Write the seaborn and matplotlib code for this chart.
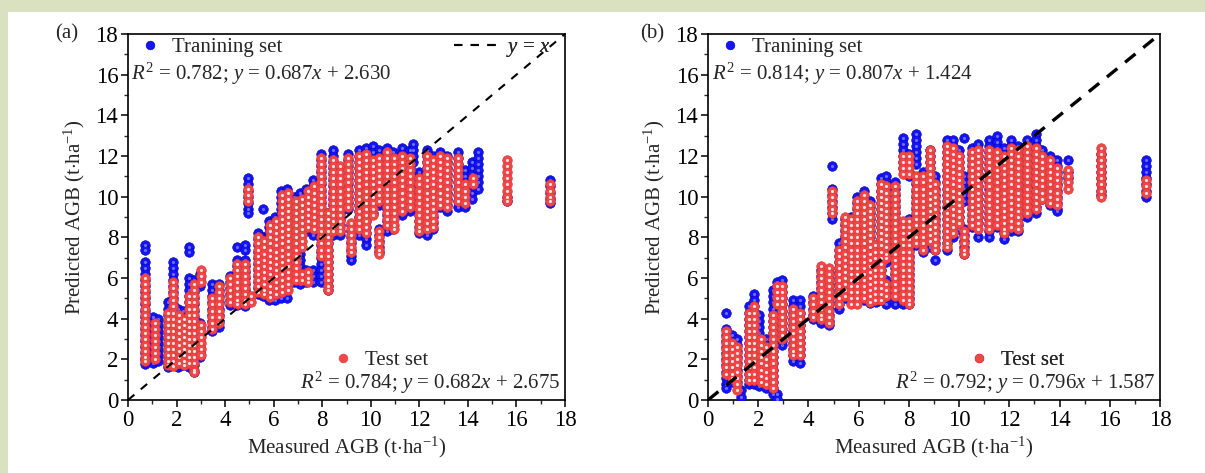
import numpy as np
import pandas as pd
import matplotlib
matplotlib.use("Agg")
import matplotlib.pyplot as plt
from matplotlib.lines import Line2D
from matplotlib.patches import Rectangle
from matplotlib.ticker import MultipleLocator
import seaborn as sns

# ---------------- data ----------------
# Panel (a) training set: measured AGB columns and predicted values in each column
a_train_x = [0.70, 1.05, 1.25, 1.65, 1.85, 2.05, 2.25, 2.5, 2.72, 2.98, 3.45, 3.75, 4.2, 4.5, 4.8, 4.95,
             5.35, 5.55, 5.8, 6.05, 6.3, 6.55, 6.85, 7.1, 7.35, 7.6, 7.95, 8.25, 8.45, 8.75, 9.05, 9.2,
             9.5, 9.8, 10.1, 10.35, 10.65, 10.9, 11.3, 11.6, 11.75, 12.0, 12.3, 12.55, 12.85, 13.15,
             13.6, 13.9, 14.15, 14.4, 15.6, 17.4]
a_train_y = [
    [7.6, 7.4, 6.8, 6.5, 6.2, 5.9, 5.6, 5.3, 5.0, 4.7, 4.4, 4.1, 3.8, 3.5, 3.2, 2.9, 2.6, 2.3, 2.0, 1.75],
    [4.1, 3.8, 3.5, 3.2, 2.9, 2.6, 2.3, 2.0, 1.8],
    [4.0, 3.7, 3.4, 3.1, 2.8, 2.5, 2.2, 1.9],
    [4.8, 4.5, 4.2, 3.9, 3.6, 3.3, 3.0, 2.7, 2.4, 2.1, 1.8, 1.6],
    [6.8, 6.5, 6.2, 5.9, 5.6, 5.3, 5.0, 4.7, 4.4, 4.1, 3.8, 3.5, 3.2, 2.9, 2.6, 2.3, 2.0, 1.7],
    [4.5, 4.2, 3.9, 3.6, 3.3, 3.0, 2.7, 2.4, 2.1, 1.8, 1.6],
    [4.4, 4.1, 3.8, 3.5, 3.2, 2.9, 2.6, 2.3, 2.0, 1.7],
    [7.5, 7.3, 6.0, 5.7, 5.4, 5.1, 4.8, 4.5, 4.2, 3.9, 3.6, 3.3, 3.0, 2.7, 2.4, 2.1, 1.8, 1.6],
    [5.9, 5.6, 5.3, 5.0, 4.7, 4.4, 4.1, 3.8, 3.5, 3.2, 2.9, 2.6, 2.3, 2.0, 1.7, 1.4],
    [6.2, 5.9, 5.6, 3.8, 3.5, 3.2, 2.9, 2.6, 2.3, 2.1],
    [5.7, 5.4, 5.1, 4.8, 4.5, 4.2, 3.9, 3.6, 3.4],
    [5.7, 5.4, 5.1, 4.8, 4.5, 4.2, 3.9, 3.6],
    [6.1, 5.8, 5.5, 5.2, 4.9, 4.65],
    [7.5, 6.9, 6.6, 6.3, 6.0, 5.7, 5.4, 5.1, 4.8, 4.65],
    [7.6, 7.4, 6.9, 6.6, 6.3, 6.0, 5.7, 5.4, 5.1, 4.8, 4.6],
    [10.9, 10.6, 10.3, 10.0, 9.7, 9.4, 9.2],
    [8.2, 7.9, 7.6, 7.3, 7.0, 6.7, 6.4, 6.1, 5.8, 5.5, 5.2],
    [9.4, 8.0, 7.7, 7.4, 7.1, 6.8, 6.5, 6.2, 5.9, 5.6, 5.3, 5.1],
    [8.8, 8.5, 8.2, 7.9, 7.6, 7.3, 7.0, 6.7, 6.4, 6.1, 5.8, 5.5, 5.2, 4.9],
    [9.0, 8.7, 8.4, 8.1, 7.8, 7.5, 7.2, 6.9, 6.6, 6.3, 6.0, 5.7, 5.4, 5.1, 4.9],
    [10.3, 10.0, 9.7, 9.4, 9.1, 8.8, 8.5, 8.2, 7.9, 7.6, 7.3, 7.0, 6.7, 6.4, 6.1, 5.8, 5.5, 5.2, 5.0],
    [10.4, 10.1, 9.8, 9.5, 9.2, 8.9, 8.6, 8.3, 8.0, 7.7, 7.4, 7.1, 6.8, 6.5, 6.2, 5.9, 5.6, 5.0],
    [10.0, 9.7, 9.4, 9.1, 8.8, 8.5, 8.2, 7.9, 7.6, 7.3, 7.0, 6.7, 6.4, 6.1, 5.8],
    [10.2, 9.9, 9.6, 9.3, 9.0, 8.7, 8.4, 8.1, 7.8, 7.5, 7.2, 6.9, 6.6, 6.3, 6.0, 5.7],
    [10.4, 10.1, 9.8, 9.5, 9.2, 8.9, 8.6, 8.3, 6.4, 6.1, 5.8],
    [10.8, 10.5, 10.2, 9.9, 9.6, 9.3, 9.0, 8.7, 8.4, 8.1, 6.4, 6.1, 5.8],
    [12.1, 11.8, 11.5, 11.2, 10.9, 10.6, 10.3, 10.0, 9.7, 9.4, 9.1, 8.8, 8.5, 8.2, 7.9, 7.6, 7.3, 7.0, 6.7, 6.4, 6.1, 5.8],
    [9.2, 8.9, 8.6, 8.3, 8.0, 7.7, 7.4, 7.1, 6.8, 6.5, 6.2, 5.9, 5.6, 5.4],
    [12.3, 12.0, 11.7, 11.4, 11.1, 10.8, 10.5, 10.2, 9.9, 9.6, 9.3, 9.0, 8.7, 8.4, 8.1],
    [11.3, 11.0, 10.7, 10.4, 10.1, 9.8, 9.5, 9.2, 8.9, 8.6, 8.3, 8.1],
    [12.1, 11.8, 11.5, 11.2, 10.9, 10.6, 10.3, 10.0, 9.7, 9.4],
    [8.6, 8.3, 8.0, 7.7, 7.4, 7.1, 6.9],
    [12.3, 12.0, 11.7, 11.4, 11.1, 10.8, 10.5, 10.2, 9.9, 9.6, 9.3, 9.0, 8.7, 8.4, 8.1],
    [12.4, 12.1, 11.8, 11.5, 11.2, 10.9, 10.6, 10.3, 10.0, 9.7, 9.4, 9.1, 8.8, 8.5, 8.2, 7.9, 7.6],
    [12.5, 12.2, 11.9, 11.6, 11.3, 11.0, 10.7, 10.4, 10.1, 9.8, 9.5, 9.2],
    [12.3, 12.0, 11.7, 11.4, 11.1, 10.8, 10.5, 10.2, 9.9, 9.6, 8.4, 8.1, 7.8, 7.5, 7.3],
    [12.4, 12.1, 11.8, 11.5, 11.2, 10.9, 10.6, 10.3, 10.0, 9.7, 9.4, 9.1, 8.8, 8.5, 8.3],
    [12.2, 11.9, 11.6, 11.3, 11.0, 10.7, 10.4, 10.1, 9.8, 9.5, 9.2, 8.9, 8.6, 8.4],
    [12.4, 12.1, 11.8, 11.5, 11.2, 10.9, 10.6, 10.3, 10.0, 9.7, 9.4, 9.1],
    [12.3, 12.0, 11.7, 11.4, 11.1, 10.8, 10.5, 10.2, 9.9, 9.6, 9.3],
    [12.6, 12.3, 12.0, 11.7],
    [11.2, 10.9, 10.6, 10.3, 10.0, 9.7, 9.4, 9.1, 8.8, 8.5, 8.2],
    [12.3, 12.0, 11.7, 11.4, 11.1, 10.8, 10.5, 10.2, 9.9, 9.6, 9.3, 9.0, 8.7, 8.4, 8.1],
    [12.0, 11.7, 11.4, 11.1, 10.8, 10.5, 10.2, 9.9, 9.6, 9.3, 9.0, 8.7, 8.4],
    [12.2, 11.9, 11.6, 11.3, 11.0, 10.7, 10.4, 10.1, 9.8, 9.5],
    [12.0, 11.7, 11.4, 11.1, 10.8, 10.5, 10.2, 9.9, 9.6, 9.3],
    [12.2, 11.9, 11.6, 11.3, 11.0, 10.7, 10.4, 10.1, 9.8, 9.5],
    [11.3, 11.0, 10.7, 10.4, 10.1, 9.8, 9.5],
    [11.7, 11.4, 11.1, 10.8, 10.5, 10.2, 9.9],
    [12.2, 11.9, 11.6, 11.3, 11.0, 10.7, 10.4],
    [10.0, 9.8],
    [10.8, 10.5, 10.2, 9.9, 9.7],
]

# Panel (a) test set
a_test_x = [0.70, 1.1, 1.65, 1.85, 2.1, 2.3, 2.5, 2.72, 3.0, 3.45, 3.75, 4.2, 4.5, 4.8, 4.95, 5.05,
            5.35, 5.6, 5.85, 6.1, 6.35, 6.6, 6.9, 7.15, 7.4, 7.65, 7.95, 8.25, 8.45, 8.75, 9.05, 9.2,
            9.5, 9.8, 10.1, 10.35, 10.65, 10.95, 11.3, 11.6, 12.0, 12.3, 12.55, 12.85, 13.15, 13.6,
            13.9, 14.2, 15.6, 17.4]
a_test_y = [
    [6.0, 5.7, 5.4, 5.1, 4.8, 4.5, 4.2, 3.9, 3.6, 3.3, 3.0, 2.7, 2.4, 2.1, 1.9],
    [3.8, 3.5, 3.2, 2.9, 2.6, 2.3, 2.0],
    [4.3, 4.0, 3.7, 3.4, 3.1, 2.8, 2.5, 2.2, 1.9, 1.7],
    [5.8, 5.5, 5.2, 4.9, 4.6, 4.3, 4.0, 3.7, 3.4, 3.1, 2.8, 2.5, 2.2, 1.9, 1.65],
    [4.2, 3.9, 3.6, 3.3, 3.0, 2.7, 2.4, 2.1, 1.8],
    [4.0, 3.7, 3.4, 3.1, 2.8, 2.5, 2.2, 1.9, 1.7],
    [5.1, 4.8, 4.5, 4.2, 3.9, 3.6, 3.3, 3.0, 2.7, 2.4, 2.1, 1.8],
    [5.7, 5.4, 5.1, 4.8, 4.5, 4.2, 3.9, 3.6, 3.3, 3.0, 2.7, 2.4, 2.1, 1.8, 1.5, 1.4],
    [6.4, 6.1, 5.8, 3.7, 3.4, 3.1, 2.8, 2.5, 2.2],
    [5.0, 4.7, 4.4, 4.1, 3.8, 3.5],
    [5.6, 5.3, 5.0, 4.7, 4.4, 4.1, 3.8],
    [6.0, 5.7, 5.4, 5.1, 4.8],
    [6.7, 6.4, 6.1, 5.8, 5.5, 5.2, 4.9, 4.7],
    [6.7, 6.4, 6.1, 5.8, 5.5, 5.2, 4.9, 4.7],
    [10.4, 10.1, 9.8],
    [5.1, 4.8],
    [8.0, 7.7, 7.4, 7.1, 6.8, 6.5, 6.2, 5.9, 5.6, 5.3],
    [7.8, 7.5, 7.2, 6.9, 6.6, 6.3, 6.0, 5.7, 5.4, 5.2],
    [8.6, 8.3, 8.0, 7.7, 7.4, 7.1, 6.8, 6.5, 6.2, 5.9, 5.6, 5.3, 5.05],
    [8.8, 8.5, 8.2, 7.9, 7.6, 7.3, 7.0, 6.7, 6.4, 6.1, 5.8, 5.5, 5.2],
    [10.1, 9.8, 9.5, 9.2, 8.9, 8.6, 8.3, 8.0, 7.7, 7.4, 7.1, 6.8, 6.5, 6.2, 5.9, 5.6, 5.3],
    [10.2, 9.9, 9.6, 9.3, 9.0, 8.7, 8.4, 8.1, 7.8, 7.5, 7.2, 6.9, 6.6, 6.3, 6.0, 5.7, 5.4],
    [9.8, 9.5, 9.2, 8.9, 8.6, 8.3, 8.0, 7.7, 7.4, 7.1, 6.8, 6.5, 6.2, 5.9],
    [9.9, 9.6, 9.3, 9.0, 8.7, 8.4, 8.1, 7.8, 7.5, 6.2, 5.9],
    [10.3, 10.0, 9.7, 9.4, 9.1, 8.8, 8.5, 6.3, 6.0, 5.8],
    [10.5, 10.2, 9.9, 9.6, 9.3, 9.0, 8.7, 8.4],
    [11.9, 11.6, 11.3, 11.0, 10.7, 10.4, 10.1, 9.8, 9.5, 9.2, 8.9, 8.6, 8.3, 8.0, 7.7, 7.4, 7.1],
    [9.2, 8.9, 8.6, 8.3, 8.0, 7.7, 7.4, 7.1, 6.8, 6.5, 6.2, 5.9, 5.6, 5.4],
    [11.8, 11.5, 11.2, 10.9, 10.6, 10.3, 10.0, 9.7, 9.4, 9.1, 8.8, 8.5, 8.3],
    [11.5, 11.2, 10.9, 10.6, 10.3, 10.0, 9.7, 9.4, 9.1, 8.8, 8.5, 8.3],
    [11.9, 11.6, 11.3, 11.0, 10.7, 10.4, 10.1, 9.8, 9.5],
    [8.7, 8.4, 8.1, 7.8, 7.5, 7.3],
    [12.0, 11.7, 11.4, 11.1, 10.8, 10.5, 10.2, 9.9, 9.6, 9.3, 9.0, 8.7, 8.4],
    [12.1, 11.8, 11.5, 11.2, 10.9, 10.6, 10.3, 10.0, 9.7, 9.4, 9.1, 8.8, 8.5, 8.2],
    [11.8, 11.5, 11.2, 10.9, 10.6, 10.3, 10.0, 9.7, 9.4, 9.1],
    [11.9, 11.6, 11.3, 11.0, 10.7, 10.4, 10.1, 9.8, 8.3, 8.0, 7.7, 7.4, 7.2],
    [12.2, 11.9, 11.6, 11.3, 11.0, 10.7, 10.4, 10.1, 9.8, 9.5, 9.2, 8.9, 8.6],
    [11.9, 11.6, 11.3, 11.0, 10.7, 10.4, 10.1, 9.8, 9.5, 9.2, 8.9, 8.6, 8.4],
    [12.0, 11.7, 11.4, 11.1, 10.8, 10.5, 10.2, 9.9, 9.6, 9.3],
    [11.9, 11.6, 11.3, 11.0, 10.7, 10.4, 10.1, 9.8, 9.5],
    [10.9, 10.6, 10.3, 10.0, 9.7, 9.4, 9.1, 8.8, 8.5, 8.3],
    [12.0, 11.7, 11.4, 11.1, 10.8, 10.5, 10.2, 9.9, 9.6, 9.3, 9.0, 8.7, 8.4],
    [11.8, 11.5, 11.2, 10.9, 10.6, 10.3, 10.0, 9.7, 9.4, 9.1, 8.8, 8.5],
    [12.0, 11.7, 11.4, 11.1, 10.8, 10.5, 10.2, 9.9, 9.6],
    [11.9, 11.6, 11.3, 11.0, 10.7, 10.4, 10.1, 9.8, 9.5],
    [11.9, 11.6, 11.3, 11.0, 10.7, 10.4, 10.1, 9.8],
    [10.6, 10.3, 10.0, 9.7],
    [10.9, 10.6],
    [11.8, 11.5, 11.2, 10.9, 10.6, 10.3, 10.0, 9.8],
    [10.6, 10.3, 10.0, 9.8],
]

# Panel (b) training set
b_train_x = [0.7, 0.95, 1.15, 1.3, 1.65, 1.85, 2.05, 2.3, 2.6, 2.75, 2.95, 3.4, 3.65, 4.2, 4.5, 4.8,
             4.93, 5.2, 5.45, 5.7, 5.95, 6.2, 6.45, 6.7, 6.9, 7.1, 7.45, 7.75, 8.0, 8.3, 8.55, 8.85,
             9.05, 9.5, 9.75, 10.0, 10.2, 10.5, 10.75, 11.2, 11.5, 11.8, 12.05, 12.35, 12.7, 13.05,
             13.3, 13.6, 13.9, 14.35, 15.65, 17.45]
b_train_y = [
    [4.3, 3.5, 3.2, 2.9, 2.6, 2.3, 2.0, 1.7, 1.4, 1.1, 0.8, 0.6],
    [3.2, 2.9, 2.6, 2.3, 2.0, 1.7, 1.4, 1.1, 0.9],
    [3.0, 2.7, 2.4, 2.1, 1.8, 1.5, 1.2, 0.9],
    [0.5, 0.15],
    [4.6, 4.3, 4.0, 3.7, 3.4, 3.1, 2.8, 2.5, 2.2, 1.9, 1.6, 1.3, 1.0, 0.8],
    [5.2, 4.9, 4.6, 4.3, 4.0, 3.7, 3.4, 3.1, 2.8, 2.5, 2.2, 1.9, 1.6, 1.3, 1.0, 0.8],
    [4.2, 3.9, 3.6, 3.3, 3.0, 2.7, 2.4, 2.1, 1.8, 1.5, 1.2, 0.9, 0.7],
    [3.0, 2.7, 2.4, 2.1, 1.8, 1.5, 1.2, 0.9, 0.6],
    [5.4, 5.1, 4.8, 4.5, 4.2, 3.9, 3.6, 3.3, 3.0, 2.7, 2.4, 2.1, 1.8, 1.5, 1.2, 0.9, 0.6, 0.3],
    [5.8, 5.5, 5.2, 4.9, 4.6, 0.3, 0.05],
    [5.9, 5.6, 5.3, 5.0, 4.7, 4.4, 4.1, 3.8, 3.5, 3.2, 2.9, 2.7],
    [4.9, 4.6, 4.3, 4.0, 3.7, 3.4, 3.1, 2.8, 2.5, 2.2, 1.9],
    [4.9, 4.6, 4.3, 4.0, 3.7, 3.4, 3.1, 2.8, 2.5, 2.2, 1.8],
    [5.1, 4.8, 4.5, 4.2, 4.0],
    [6.4, 6.1, 5.8, 5.5, 5.2, 4.9, 4.6, 4.3, 4.0, 3.8],
    [6.3, 6.0, 5.7, 5.4, 5.1, 4.8, 4.5, 4.2, 3.9, 3.7],
    [11.5, 10.4, 10.1, 9.8, 9.5, 9.2, 8.9],
    [7.7, 7.4, 7.1, 6.8, 6.5, 6.2, 5.9, 5.6, 5.3, 5.0, 4.7, 4.5],
    [8.9, 8.6, 8.3, 8.0, 7.7, 7.4, 7.1, 6.8, 6.5, 6.2, 5.9, 5.6, 5.3, 5.0],
    [9.0, 8.7, 8.4, 8.1, 7.8, 7.5, 7.2, 6.9, 6.6, 6.3, 6.0, 5.7, 5.4, 5.1, 4.8],
    [10.0, 9.7, 9.4, 9.1, 8.8, 8.5, 8.2, 7.9, 7.6, 7.3, 7.0, 6.7, 6.4, 6.1, 5.8, 5.5, 5.2, 4.9],
    [10.3, 10.0, 9.7, 9.4, 9.1, 8.8, 8.5, 8.2, 7.9, 7.6, 7.3, 7.0, 6.7, 6.4, 6.1, 5.8, 5.5, 5.2, 4.9],
    [9.8, 9.5, 9.2, 8.9, 8.6, 8.3, 8.0, 7.7, 7.4, 7.1, 6.8, 6.5, 6.2, 5.9, 5.6, 5.3, 5.0, 4.75],
    [6.3, 6.0, 5.7, 5.4, 5.1, 4.8],
    [10.9, 10.6, 10.3, 10.0, 9.7, 9.4, 9.1, 8.8, 8.5, 8.2, 7.9, 7.6, 7.3, 7.0, 6.7, 6.4, 6.1, 5.8, 5.5, 5.2, 4.9],
    [11.0, 10.7, 10.4, 10.1, 9.8, 9.5, 9.2, 8.9, 8.6, 8.3, 8.0, 7.7, 7.4, 7.1, 6.8, 5.9, 5.6, 5.3, 5.0, 4.7],
    [10.7, 10.4, 10.1, 9.8, 9.5, 9.2, 8.9, 8.6, 8.3, 8.0, 7.7, 7.4, 7.1, 6.8, 6.5, 6.2, 5.9, 5.6, 5.3, 5.0, 4.7],
    [12.9, 12.6, 12.3, 12.0, 11.7, 11.4, 8.6, 8.3, 8.0, 7.7, 7.4, 7.1, 6.8, 6.5, 6.2, 5.9, 5.6, 5.3, 5.0, 4.7],
    [12.1, 11.8, 11.5, 11.2, 11.0, 8.9, 8.6, 8.3, 8.0, 7.7, 7.4, 7.1, 6.8, 6.5, 6.2, 5.9, 5.6, 5.3, 5.0, 4.7],
    [13.1, 12.8, 12.5, 12.2, 11.9, 11.6, 10.9, 10.6, 10.3, 10.0, 9.7, 9.4, 9.1, 8.8, 8.5, 8.2, 7.9, 7.6],
    [11.2, 10.9, 10.6, 10.3, 10.0, 9.7, 9.4, 9.1, 8.8, 8.5, 8.2, 7.9, 7.6, 7.3],
    [12.3, 12.0, 11.7, 11.4, 11.1, 10.8, 10.5, 10.2, 9.9, 9.6, 9.3, 9.0, 8.7, 8.4, 8.1, 7.8, 7.5],
    [11.0, 10.7, 10.4, 10.1, 9.8, 9.5, 9.2, 8.9, 8.6, 8.3, 8.0, 7.7, 7.4, 6.9],
    [12.8, 12.5, 12.2, 11.9, 11.6, 11.3, 11.0, 10.7, 10.4, 10.1, 9.8, 9.5, 9.2, 8.9, 8.6, 8.3, 8.0, 7.7, 7.4],
    [12.8, 12.5, 12.2, 11.9, 11.6, 11.3, 11.0, 10.7, 10.4, 10.1, 9.8, 9.5, 9.2, 8.9, 8.6, 8.3, 8.0],
    [12.3, 12.0, 11.7, 11.4, 11.1, 10.8, 10.5, 10.2, 9.9, 9.6, 9.3, 9.0, 8.7, 8.4],
    [12.9, 11.0, 10.7, 10.4, 10.1, 9.8, 8.4, 8.1, 7.8, 7.5, 7.2],
    [12.4, 12.1, 11.8, 11.5, 11.2, 10.9, 10.6, 10.3, 10.0, 9.7, 9.4, 9.1, 8.8, 8.5],
    [12.6, 12.3, 12.0, 11.7, 11.4, 11.1, 10.8, 10.5, 10.2, 9.9, 9.6, 9.3, 9.0, 8.7, 8.0],
    [12.8, 12.5, 12.2, 11.9, 11.6, 11.3, 11.0, 10.7, 10.4, 10.1, 9.8, 9.5, 9.2, 8.9, 8.6, 8.3, 8.0],
    [13.0, 12.7, 12.4, 12.1, 11.8, 11.5, 11.2, 10.9, 10.6, 10.3, 10.0, 9.7, 9.4, 9.1, 8.8, 8.5],
    [12.4, 12.1, 11.8, 11.5, 11.2, 10.9, 10.6, 10.3, 10.0, 9.7, 9.4, 9.1, 8.8, 8.5, 8.2, 7.9],
    [12.8, 12.5, 12.2, 11.9, 11.6, 11.3, 11.0, 10.7, 10.4, 10.1, 9.8, 9.5, 9.2, 8.9, 8.6, 8.3],
    [12.5, 12.2, 11.9, 11.6, 11.3, 11.0, 10.7, 10.4, 10.1, 9.8, 9.5, 9.2, 8.9, 8.6, 8.3],
    [12.8, 12.5, 12.2, 11.9, 11.6, 11.3, 11.0, 10.7, 10.4, 10.1, 9.8, 9.5, 9.2, 9.0],
    [13.1, 12.8, 12.5, 12.2, 11.9, 11.6, 11.3, 11.0, 10.7, 10.4, 10.1, 9.8, 9.5, 9.2],
    [12.3, 12.0, 11.7, 11.4, 11.1, 10.8, 10.5, 10.2, 9.9],
    [12.0, 11.7, 11.4, 11.1, 10.8, 10.5, 10.2, 9.9, 9.6],
    [11.8, 11.5, 11.2, 10.9, 10.6, 10.3, 10.0, 9.7, 9.4, 9.3],
    [11.8, 11.2, 10.9],
    [12.1, 11.8, 11.5, 11.2, 10.9, 10.6, 10.3, 10.1],
    [11.8, 11.5, 11.2, 10.9, 10.6, 10.3, 10.0],
]

# Panel (b) test set
b_test_x = [0.7, 0.95, 1.15, 1.65, 1.85, 2.1, 2.3, 2.6, 2.75, 2.95, 3.4, 3.65, 4.2, 4.5, 4.8, 4.93,
            5.2, 5.45, 5.7, 5.95, 6.2, 6.45, 6.65, 6.9, 7.1, 7.45, 7.75, 8.0, 8.3, 8.55, 8.85, 9.05,
            9.5, 9.75, 10.0, 10.2, 10.5, 10.75, 11.2, 11.5, 11.8, 12.05, 12.35, 12.7, 13.05, 13.3,
            13.6, 13.9, 14.35, 15.65, 17.45]
b_test_y = [
    [3.4, 3.1, 2.8, 2.5, 2.2, 1.9, 1.6, 1.3],
    [2.8, 2.5, 2.2, 1.9, 1.6, 1.3, 1.1],
    [2.6, 2.3, 2.0, 1.7, 1.4, 1.1, 0.8, 0.5],
    [4.3, 4.0, 3.7, 3.4, 3.1, 2.8, 2.5, 2.2, 1.9, 1.6, 1.3, 1.0],
    [4.6, 4.3, 4.0, 3.7, 3.4, 3.1, 2.8, 2.5, 2.2, 1.9, 1.6, 1.3, 1.0],
    [3.0, 2.7, 2.4, 2.1, 1.8, 1.5, 1.2, 0.9],
    [2.6, 2.3, 2.0, 1.7, 1.4, 1.1, 0.8],
    [4.2, 3.9, 3.6, 3.3, 3.0, 2.7, 2.4, 2.1, 1.8, 1.5, 1.2, 0.9, 0.6],
    [5.6, 5.3, 5.0, 4.7],
    [5.6, 5.3, 5.0, 4.7, 4.4, 4.1, 3.8, 3.5, 3.2, 3.0],
    [4.5, 4.2, 3.9, 3.6, 3.3, 3.0, 2.7, 2.4, 2.2],
    [4.3, 4.0, 3.7, 3.4, 3.1, 2.8, 2.5, 2.2],
    [5.0, 4.7, 4.4, 4.1],
    [6.6, 6.3, 6.0, 5.7, 5.4, 5.1, 4.8, 4.5, 4.2, 4.0],
    [6.5, 6.2, 5.9, 5.6, 5.3, 5.0, 4.7, 4.4, 4.1, 3.8],
    [10.3, 10.0, 9.7, 9.4, 9.2],
    [7.4, 7.1, 6.8, 6.5, 6.2, 5.9, 5.6, 5.3, 5.0, 4.7],
    [9.0, 8.7, 8.4, 8.1, 7.8, 7.5, 7.2, 6.9, 6.6, 6.3, 6.0, 5.7, 5.4, 5.1],
    [8.9, 8.6, 8.3, 8.0, 7.7, 7.4, 7.1, 6.8, 6.5, 6.2, 5.9, 5.6, 5.3, 5.0, 4.7],
    [9.8, 9.5, 9.2, 8.9, 8.6, 8.3, 8.0, 7.7, 7.4, 7.1, 6.8, 6.5, 6.2, 5.9, 5.6, 5.3, 5.0, 4.7],
    [10.1, 9.8, 9.5, 9.2, 8.9, 8.6, 8.3, 8.0, 7.7, 7.4, 7.1, 6.8, 6.5, 6.2, 5.9, 5.6, 5.3, 5.0],
    [9.6, 9.3, 9.0, 8.7, 8.4, 8.1, 7.8, 7.5, 7.2, 6.9, 6.6, 6.3, 6.0, 5.7, 5.4, 5.1, 4.8],
    [7.6, 7.3, 7.0, 6.7, 6.4, 6.1, 5.8, 5.5, 5.2, 4.9],
    [10.6, 10.3, 10.0, 9.7, 9.4, 9.1, 8.8, 8.5, 8.2, 7.9, 7.6, 7.3, 7.0, 6.7, 6.4, 6.1, 5.8, 5.5, 5.2, 4.9],
    [10.5, 10.2, 9.9, 9.6, 9.3, 9.0, 8.7, 8.4, 8.1, 7.8, 7.5, 7.2, 7.0, 5.7, 5.4, 5.1],
    [10.5, 10.2, 9.9, 9.6, 9.3, 9.0, 8.7, 8.4, 8.1, 7.8, 7.5, 7.2, 6.9, 6.6, 6.3, 6.0, 5.7, 5.4, 5.1],
    [12.0, 11.7, 11.4, 11.1, 8.8, 8.5, 8.2, 7.9, 7.6, 7.3, 7.0, 6.7, 6.4, 6.1, 5.8, 5.5, 5.2, 4.9],
    [12.0, 11.7, 11.4, 11.1, 8.8, 8.5, 8.2, 7.9, 7.6, 7.3, 7.0, 6.7, 6.4, 6.1, 5.8, 5.5, 5.2, 4.9, 4.7],
    [11.0, 10.7, 10.4, 10.1, 9.8, 9.5, 9.2, 8.9, 8.6, 8.3, 8.0, 7.7],
    [11.0, 10.7, 10.4, 10.1, 9.8, 9.5, 9.2, 8.9, 8.6, 8.3, 8.0, 7.7, 7.4],
    [12.3, 12.0, 11.7, 11.4, 11.1, 10.8, 10.5, 10.2, 9.9, 9.6, 9.3, 9.0, 8.7, 8.4, 8.1, 7.8],
    [10.6, 10.3, 10.0, 9.7, 9.4, 9.1, 8.8, 8.5, 8.2, 7.9, 7.6, 7.4],
    [12.5, 12.2, 11.9, 11.6, 11.3, 11.0, 10.7, 10.4, 10.1, 9.8, 9.5, 9.2, 8.9, 8.6, 8.3, 8.0, 7.7, 7.5],
    [12.4, 12.1, 11.8, 11.5, 11.2, 10.9, 10.6, 10.3, 10.0, 9.7, 9.4, 9.1, 8.8, 8.5, 8.2],
    [12.0, 11.7, 11.4, 11.1, 10.8, 10.5, 10.2, 9.9, 9.6, 9.3, 9.0, 8.7],
    [8.3, 8.0, 7.7, 7.4, 7.2],
    [12.2, 11.9, 11.6, 11.3, 11.0, 10.7, 10.4, 10.1, 9.8, 9.5, 9.2, 8.9, 8.6],
    [12.3, 12.0, 11.7, 11.4, 11.1, 10.8, 10.5, 10.2, 9.9, 9.6, 9.3, 9.0, 8.7, 8.4],
    [12.3, 12.0, 11.7, 11.4, 11.1, 10.8, 10.5, 10.2, 9.9, 9.6, 9.3, 9.0, 8.7, 8.4],
    [12.2, 11.9, 11.6, 11.3, 11.0, 10.7, 10.4, 10.1, 9.8, 9.5, 9.2, 8.9, 8.6],
    [12.0, 11.7, 11.4, 11.1, 10.8, 10.5, 10.2, 9.9, 9.6, 9.3, 9.0, 8.7, 8.4, 8.2],
    [12.4, 12.1, 11.8, 11.5, 11.2, 10.9, 10.6, 10.3, 10.0, 9.7, 9.4, 9.1, 8.8, 8.5],
    [12.3, 12.0, 11.7, 11.4, 11.1, 10.8, 10.5, 10.2, 9.9, 9.6, 9.3, 9.0, 8.7, 8.4],
    [12.5, 12.2, 11.9, 11.6, 11.3, 11.0, 10.7, 10.4, 10.1, 9.8, 9.5, 9.2],
    [12.4, 12.1, 11.8, 11.5, 11.2, 10.9, 10.6, 10.3, 10.0, 9.7, 9.4],
    [12.0, 11.7, 11.4, 11.1, 10.8, 10.5, 10.2, 9.9],
    [11.8, 11.5, 11.2, 10.9, 10.6, 10.3, 10.0, 9.7],
    [11.4, 11.1, 10.8, 10.5, 10.2, 9.9, 9.6],
    [11.3, 11.0, 10.7, 10.4],
    [12.4, 12.1, 11.8, 11.5, 11.2, 10.9, 10.6, 10.3, 10.0],
    [10.8, 10.5, 10.2],
]

panel_tags = ["(a)", "(b)"]
train_text = [r"$R^2$ = 0.782; $y$ = 0.687$x$ + 2.630", r"$R^2$ = 0.814; $y$ = 0.807$x$ + 1.424"]
test_text = [r"$R^2$ = 0.784; $y$ = 0.682$x$ + 2.675", r"$R^2$ = 0.792; $y$ = 0.796$x$ + 1.587"]
train_label = "Tranining set"
test_label = "Test set"
x_label = r"Measured AGB (t$\cdot$ha$^{-1}$)"
y_label = r"Predicted AGB (t$\cdot$ha$^{-1}$)"
ticks = [0, 2, 4, 6, 8, 10, 12, 14, 16, 18]


def to_frame(xs, ys):
    rows = [(x, y) for x, col in zip(xs, ys) for y in col]
    return pd.DataFrame(rows, columns=["measured", "predicted"])


# ---------------- style ----------------
sns.set_theme(style="ticks")
plt.rcParams["font.family"] = ["Liberation Serif", "DejaVu Serif"]
plt.rcParams["mathtext.fontset"] = "custom"
plt.rcParams["mathtext.rm"] = "Liberation Serif"
plt.rcParams["mathtext.it"] = "Liberation Serif:italic"
plt.rcParams["mathtext.bf"] = "Liberation Serif:bold"
plt.rcParams["axes.unicode_minus"] = True

BLUE = "#1414f5"
BLUE_EDGE = "#0000b8"
RED = "#f04848"
RED_EDGE = "#d83434"
BG = "#d9e1c0"

fig = plt.figure(figsize=(12.05, 4.73), dpi=100, facecolor=BG)
white = Rectangle((8 / 1205, 0), 1, 1 - 12 / 473, transform=fig.transFigure,
                  facecolor="white", edgecolor="none", zorder=-10)
fig.add_artist(white)

axes_pos = [[128 / 1205, 1 - 400 / 473, 437 / 1205, 366 / 473],
            [708 / 1205, 1 - 400 / 473, 452 / 1205, 366 / 473]]

data = [(to_frame(a_train_x, a_train_y), to_frame(a_test_x, a_test_y)),
        (to_frame(b_train_x, b_train_y), to_frame(b_test_x, b_test_y))]

FS = 15
TFS = 16.5
for i in range(2):
    ax = fig.add_axes(axes_pos[i])
    ax.set_facecolor("white")
    tr, te = data[i]
    sns.scatterplot(data=tr, x="measured", y="predicted", ax=ax, color=BLUE, s=48,
                    edgecolor=BLUE_EDGE, linewidth=0.4, zorder=3, legend=False)
    sns.scatterplot(data=tr, x="measured", y="predicted", ax=ax, color="#6f6fff", s=5,
                    linewidth=0, zorder=3.1, legend=False)
    sns.scatterplot(data=te, x="measured", y="predicted", ax=ax, color=RED, s=48,
                    edgecolor=RED_EDGE, linewidth=0.4, zorder=4, legend=False)
    sns.scatterplot(data=te, x="measured", y="predicted", ax=ax, color="#ffe6e6", s=5,
                    linewidth=0, zorder=4.1, legend=False)

    lw = 1.5 if i == 0 else 2.4
    dash = (4, 4) if i == 0 else (4, 3)
    line, = ax.plot([0, 18], [0, 18], color="black", linestyle="--", dashes=dash, lw=lw, zorder=5)

    ax.set_xlim(0, 18)
    ax.set_ylim(0, 18)
    ax.set_xticks(ticks)
    ax.set_yticks(ticks)
    ax.xaxis.set_minor_locator(MultipleLocator(1))
    ax.yaxis.set_minor_locator(MultipleLocator(1))
    ax.tick_params(which="major", direction="out", length=5, width=1.1, labelsize=TFS,
                   colors="black", pad=2)
    ax.tick_params(which="minor", direction="out", length=3, width=1.0)
    ax.tick_params(top=False, right=False, which="both")
    for sp in ax.spines.values():
        sp.set_visible(True)
        sp.set_linewidth(1.2)
        sp.set_color("black")
    ax.set_xlabel(x_label, fontsize=FS, labelpad=3)
    ax.set_ylabel(y_label, fontsize=FS, labelpad=6)

    ax.text(-0.167 if i == 0 else -0.150, 1.0, panel_tags[i], transform=ax.transAxes,
            fontsize=FS, ha="left", va="center")

    h_tr = Line2D([], [], marker="o", linestyle="none", markersize=6.3,
                  markerfacecolor=BLUE, markeredgecolor=BLUE_EDGE, markeredgewidth=0.4)
    leg1 = ax.legend([h_tr], [train_label], loc="upper left", bbox_to_anchor=(-0.018, 1.03),
                     frameon=False, fontsize=FS, handletextpad=0.3, borderaxespad=0.3,
                     handlelength=1.5)
    ax.add_artist(leg1)
    ax.text(0.008, 0.89, train_text[i], transform=ax.transAxes, fontsize=FS,
            ha="left", va="center")

    h_te = Line2D([], [], marker="o", linestyle="none", markersize=6.3,
                  markerfacecolor=RED, markeredgecolor=RED_EDGE, markeredgewidth=0.4)
    test_anchor = (0.437, 0.109) if i == 0 else (0.547, 0.109)
    leg2 = ax.legend([h_te], [test_label], loc="center left", bbox_to_anchor=test_anchor,
                     frameon=False, fontsize=FS, handletextpad=0.3, borderaxespad=0.0,
                     handlelength=1.5)
    ax.add_artist(leg2)
    ax.text(0.99, 0.046, test_text[i], transform=ax.transAxes, fontsize=FS,
            ha="right", va="center")

    if i == 0:
        leg3 = ax.legend([line], [r"$y$ = $x$"], loc="upper right", bbox_to_anchor=(1.0, 1.03),
                         frameon=False, fontsize=FS, handlelength=2.4, handletextpad=0.1,
                         borderaxespad=0.3)
        ax.add_artist(leg3)

fig.savefig("out.png", dpi=100, facecolor=BG)
